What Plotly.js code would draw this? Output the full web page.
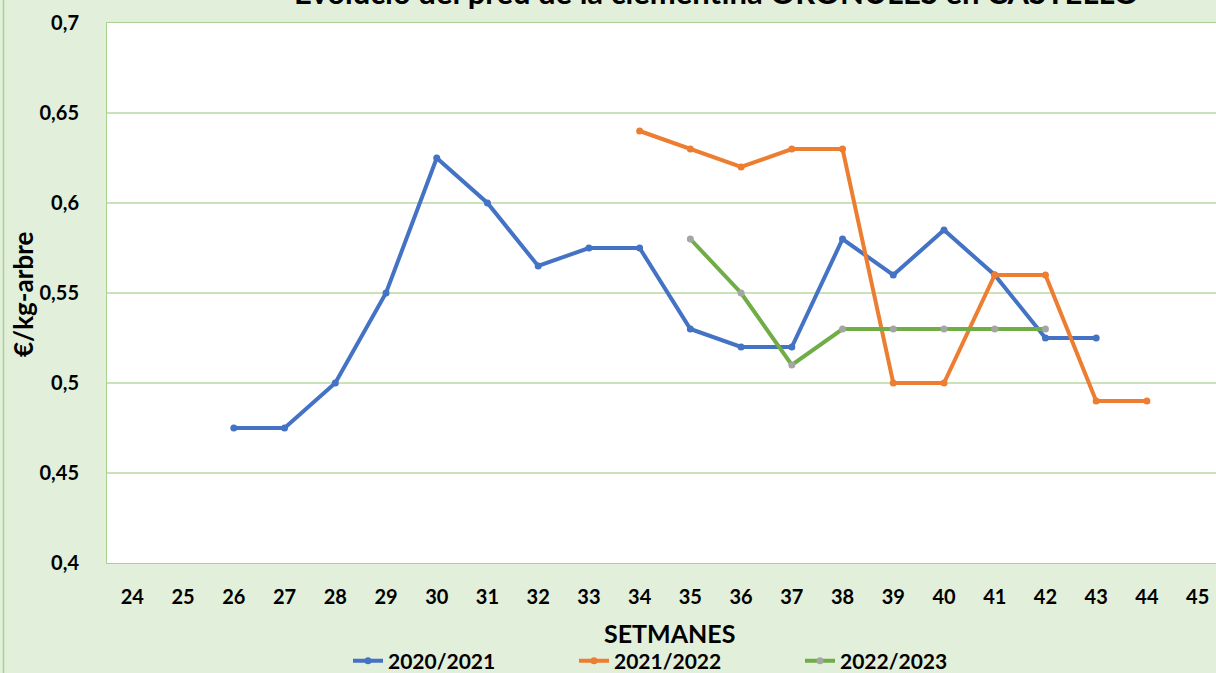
<!DOCTYPE html>
<html><head><meta charset="utf-8">
<script src="https://cdn.plot.ly/plotly-3.0.1.min.js"></script>
<style>html,body{margin:0;padding:0;overflow:hidden;background:#E2EFDA;}#chart{width:1230px;height:673px;}</style>
</head><body><div id="chart"></div>
<script>
const weeks = ['24','25','26','27','28','29','30','31','32','33','34','35','36','37','38','39','40','41','42','43','44','45'];
const weeks2021 = ['26','27','28','29','30','31','32','33','34','35','36','37','38','39','40','41','42','43'];
const price2021 = [0.475,0.475,0.5,0.55,0.625,0.6,0.565,0.575,0.575,0.53,0.52,0.52,0.58,0.56,0.585,0.56,0.525,0.525];
const weeks2122 = ['34','35','36','37','38','39','40','41','42','43','44'];
const price2122 = [0.64,0.63,0.62,0.63,0.63,0.5,0.5,0.56,0.56,0.49,0.49];
const weeks2223 = ['35','36','37','38','39','40','41','42'];
const price2223 = [0.58,0.55,0.51,0.53,0.53,0.53,0.53,0.53];
const seriesNames = ['2020/2021','2021/2022','2022/2023'];
const yTicks = [0.4,0.45,0.5,0.55,0.6,0.65,0.7];
const titleText = 'Evolució del preu de la clementina ORONULES en CASTELLÓ';
const yTitle = '€/kg-arbre';
const xTitle = 'SETMANES';

const idx = w => weeks.indexOf(w);
const F = 'Lato, "Open Sans", sans-serif';
function tr(ws, ys, name, lc, mc){
  return {x: ws.map(idx), y: ys, name: name, type:'scatter', mode:'lines+markers',
    line:{color:lc, width:4}, marker:{color:mc, size:7}, cliponaxis:false};
}
const data = [
  tr(weeks2021, price2021, seriesNames[0], '#4472C4', '#4472C4'),
  tr(weeks2122, price2122, seriesNames[1], '#ED7D31', '#ED7D31'),
  tr(weeks2223, price2223, seriesNames[2], '#70AD47', '#A5A5A5')
];
const W = 1230, H = 673, L = 107, T = 23, PW = 1116, PH = 540;
const layout = {
  width:W, height:H,
  margin:{l:L, r:W-L-PW, t:T, b:H-T-PH, pad:0, autoexpand:false},
  paper_bgcolor:'#E2EFDA', plot_bgcolor:'#FFFFFF',
  separators:', ',
  font:{family:F, color:'#000', size:20, weight:'bold'},
  showlegend:true,
  legend:{orientation:'h', xref:'container', yref:'container', x:348/W, xanchor:'left', y:(H-661)/H, yanchor:'middle',
    font:{family:F, size:21, weight:'bold', color:'#000'}, entrywidth:181, entrywidthmode:'pixels',
    bgcolor:'rgba(0,0,0,0)', traceorder:'normal', itemwidth:30},
  xaxis:{range:[-0.5,21.5], tickmode:'array', tickvals:weeks.map((w,i)=>i), ticktext:weeks,
    showgrid:false, zeroline:false, showline:true, linecolor:'#A9D18E', linewidth:1, mirror:true,
    ticks:'', ticklabelstandoff:16, tickfont:{family:F, size:20, weight:'bold'}, automargin:false},
  yaxis:{range:[0.4,0.7], tickmode:'array', tickvals:yTicks, ticktext:yTicks.map(v=>String(v).replace('.',',')),
    showgrid:true, gridcolor:'#C9E2B8', gridwidth:1.5, zeroline:false, showline:true, linecolor:'#A9D18E', linewidth:1, mirror:true,
    ticks:'', ticklabelstandoff:23, tickfont:{family:F, size:20, weight:'bold'}, automargin:false},
  annotations:[
    {text:titleText, xref:'paper', yref:'paper', x:(716-L)/PW, y:1+(T+8)/PH, xanchor:'center', yanchor:'middle',
      showarrow:false, font:{family:F, size:31, weight:'bold', color:'#000'}},
    {text:yTitle, xref:'paper', yref:'paper', x:(23-L)/PW, y:(563-295)/PH, xanchor:'center', yanchor:'middle', textangle:-90,
      showarrow:false, font:{family:F, size:26, weight:'bold', color:'#000'}},
    {text:xTitle, xref:'paper', yref:'paper', x:(669-L)/PW, y:(563-633)/PH, xanchor:'center', yanchor:'middle',
      showarrow:false, font:{family:F, size:25, weight:'bold', color:'#000'}}
  ],
  shapes:[{type:'line', xref:'paper', yref:'paper', x0:(3.5-L)/PW, x1:(3.5-L)/PW, y0:-(H-T-PH)/PH, y1:1+T/PH,
    line:{color:'#A9D18E', width:1.5}}]
};
Plotly.newPlot('chart', data, layout, {displayModeBar:false, staticPlot:true});
</script></body></html>
